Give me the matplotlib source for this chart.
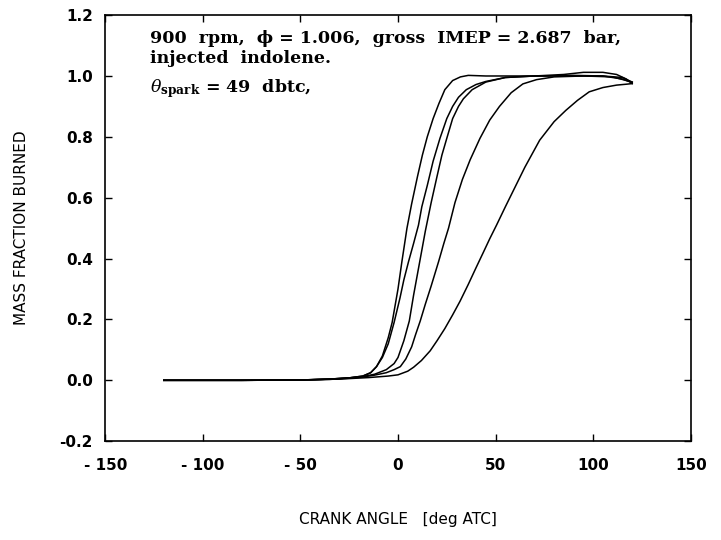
"""
Mass fraction burned vs. crank angle, five consecutive cycles
900 rpm, injected indolene, spark at 49 dbtc
"""

import matplotlib
matplotlib.use("Agg")
import matplotlib.pyplot as plt

plt.rcParams['mathtext.fontset'] = 'dejavuserif'

# crank angle [deg ATC] : mass fraction burned
angle_a = [-120, -80, -50, -35, -25, -18, -14, -11, -8, -5, -3, 0, 2, 4.6, 7, 10, 12.5, 15,
           18, 21, 24, 28, 32, 36, 45, 60, 75, 90, 105, 115, 120]
mfb_a = [0, 0, 0.001, 0.004, 0.008, 0.014, 0.025, 0.045, 0.08, 0.14, 0.19, 0.3, 0.39, 0.5,
         0.58, 0.67, 0.74, 0.8, 0.86, 0.91, 0.955, 0.985, 0.997, 1.002, 1.0, 1.0, 1.0, 1.002,
         1.0, 0.99, 0.978]

angle_b = [-120, -80, -50, -35, -25, -18, -14, -11, -8, -5, -2, 1, 3, 5.4, 8, 10.5, 12.2, 15,
           18, 21.5, 25, 28, 31, 35, 40, 45, 55, 70, 90, 105, 115, 120]
mfb_b = [0, 0, 0.001, 0.004, 0.008, 0.014, 0.025, 0.045, 0.075, 0.12, 0.19, 0.27, 0.33, 0.39,
         0.45, 0.51, 0.57, 0.64, 0.72, 0.795, 0.86, 0.9, 0.93, 0.955, 0.972, 0.982, 0.995, 1.0,
         1.0, 1.0, 0.995, 0.98]

angle_c = [-120, -80, -50, -35, -25, -18, -12, -6, -2, 0, 3, 5.8, 8, 10, 12, 14, 17, 20, 22.5,
           25, 28, 31, 33.5, 38, 45, 55, 70, 85, 95, 105, 112, 117, 120]
mfb_c = [0, 0, 0.001, 0.004, 0.008, 0.012, 0.02, 0.035, 0.055, 0.075, 0.13, 0.195, 0.28, 0.35,
         0.42, 0.49, 0.584, 0.67, 0.74, 0.795, 0.86, 0.9, 0.925, 0.955, 0.98, 0.995, 1.0, 1.005,
         1.012, 1.012, 1.005, 0.99, 0.975]

angle_d = [-120, -80, -50, -35, -25, -18, -12, -6, -2, 1.2, 4, 7, 9, 11.4, 14, 17, 20.8, 23.5,
           25.9, 29.2, 33, 37, 42, 47, 52, 58, 64, 71, 80, 95, 110, 120]
mfb_d = [0, 0, 0.001, 0.003, 0.007, 0.011, 0.017, 0.025, 0.035, 0.045, 0.07, 0.11, 0.15, 0.195,
         0.25, 0.31, 0.39, 0.45, 0.5, 0.584, 0.66, 0.725, 0.795, 0.855, 0.9, 0.945, 0.974, 0.988,
         0.997, 1.0, 0.997, 0.98]

angle_e = [-120, -80, -50, -30, -15, -5, 0, 5, 8, 12, 16.5, 20, 24, 28, 31.8, 36, 40, 43.7, 47,
           50.5, 55, 60, 65, 72.6, 80, 86, 92, 98, 105, 112, 117, 120]
mfb_e = [0, 0, 0.001, 0.004, 0.009, 0.014, 0.018, 0.03, 0.043, 0.065, 0.097, 0.13, 0.17, 0.215,
         0.26, 0.315, 0.37, 0.42, 0.465, 0.51, 0.57, 0.635, 0.7, 0.789, 0.85, 0.887, 0.92, 0.948,
         0.962, 0.97, 0.973, 0.975]

cycles = [(angle_a, mfb_a), (angle_b, mfb_b), (angle_c, mfb_c), (angle_d, mfb_d), (angle_e, mfb_e)]

x_ticks = [-150, -100, -50, 0, 50, 100, 150]
y_ticks = [-0.2, 0.0, 0.2, 0.4, 0.6, 0.8, 1.0, 1.2]

fig = plt.figure(figsize=(7.21, 5.4), dpi=100)
ax = fig.add_axes([0.146, 0.183, 0.812, 0.789])

for ang, mfb in cycles:
	ax.plot(ang, mfb, color='black', linewidth=1.1)

ax.set_xlim(-150, 150)
ax.set_ylim(-0.2, 1.2)
ax.set_xticks(x_ticks)
ax.set_xticklabels([str(t).replace('-', '- ') for t in x_ticks])
ax.set_yticks(y_ticks)
ax.set_yticklabels([f"{t:.1f}".replace('-0.0', '0.0') for t in y_ticks])
ax.tick_params(direction='in', top=True, right=True, length=5, width=1,
			   labelsize=11, pad=9)
ax.tick_params(axis='x', pad=12)
for lab in ax.get_xticklabels() + ax.get_yticklabels():
	lab.set_fontweight('semibold')
for sp in ax.spines.values():
	sp.set_linewidth(1.2)

ax.set_xlabel("CRANK ANGLE   [deg ATC]", fontsize=11, labelpad=28)
ax.set_ylabel("MASS FRACTION BURNED", fontsize=11, labelpad=22)

# annotation block, serif like the typed original
serif = ['DejaVu Serif']
ax.text(0.077, 0.944, "900  rpm,  \u03d5 = 1.006,  gross  IMEP = 2.687  bar,",
		transform=ax.transAxes, fontsize=12.5, fontweight='bold', family=serif, va='center')
ax.text(0.077, 0.898, "injected  indolene.", transform=ax.transAxes, fontsize=12.5,
		fontweight='bold', family=serif, va='center')
ax.text(0.077, 0.828, r"$\theta_{\mathbf{spark}}$ = 49  dbtc,", transform=ax.transAxes,
		fontsize=12.5, fontweight='bold', family=serif, va='center')

fig.savefig("out.png", dpi=100)
